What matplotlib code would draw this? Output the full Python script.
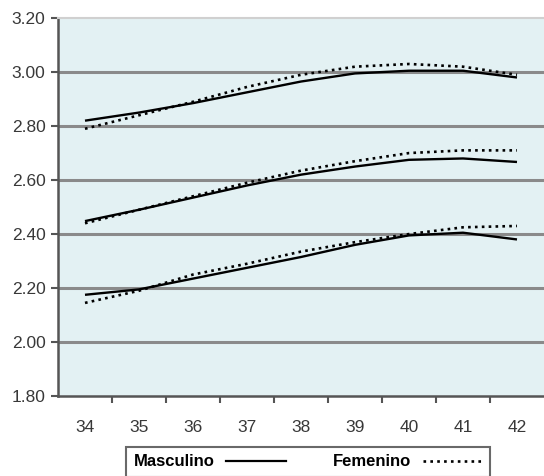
import matplotlib
matplotlib.use("Agg")
import matplotlib.pyplot as plt
from matplotlib.lines import Line2D

# ===============================
# DATA
# ===============================
ages = ["34", "35", "36", "37", "38", "39", "40", "41", "42"]

masc_top = [2.82, 2.85, 2.885, 2.925, 2.965, 2.995, 3.005, 3.005, 2.98]
fem_top = [2.79, 2.84, 2.89, 2.945, 2.99, 3.02, 3.03, 3.02, 2.99]

masc_mid = [2.448, 2.49, 2.535, 2.58, 2.62, 2.65, 2.675, 2.68, 2.667]
fem_mid = [2.44, 2.49, 2.54, 2.59, 2.635, 2.67, 2.70, 2.71, 2.71]

masc_low = [2.175, 2.195, 2.235, 2.275, 2.315, 2.36, 2.395, 2.405, 2.38]
fem_low = [2.145, 2.19, 2.25, 2.29, 2.335, 2.37, 2.40, 2.425, 2.43]

y_ticks = [1.80, 2.00, 2.20, 2.40, 2.60, 2.80, 3.00, 3.20]

plt.rcParams["font.family"] = ["Liberation Sans", "DejaVu Sans"]

# ===============================
# FIGURE
# ===============================
fig = plt.figure(figsize=(5.44, 4.76), dpi=100)
ax = fig.add_axes([0.1066, 0.168, 0.8934, 0.794])
ax.set_facecolor("#E3F1F3")

x = list(range(len(ages)))

dotted = (0, (1.0, 1.6))
for m, f in [(masc_top, fem_top), (masc_mid, fem_mid), (masc_low, fem_low)]:
    ax.plot(x, m, color="black", lw=1.7, solid_capstyle="butt", zorder=3)
    ax.plot(x, f, color="black", lw=1.9, linestyle=dotted, zorder=3)

ax.set_xlim(-0.5, len(ages) - 0.5)
ax.set_ylim(1.80, 3.20)

ax.set_yticks(y_ticks)
ax.set_yticklabels([f"{v:.2f}" for v in y_ticks])
ax.set_xticks(x)
ax.set_xticklabels(ages)
ax.set_xticks([i + 0.5 for i in x[:-1]], minor=True)

ax.tick_params(axis="x", which="major", length=0, pad=17,
               labelsize=12.5, labelcolor="#383838")
ax.tick_params(axis="x", which="minor", length=5, width=1.5, color="#555555")
ax.tick_params(axis="y", length=5, width=1.5, color="#555555",
               labelsize=12.5, labelcolor="#383838", pad=4)

ax.grid(axis="y", color="#8A8A8A", lw=2.2)
ax.set_axisbelow(True)
gl = ax.get_ygridlines()
gl[0].set_visible(False)
gl[-1].set_visible(False)

ax.spines["right"].set_visible(False)
ax.spines["top"].set_color("#D0D0D0")
ax.spines["top"].set_linewidth(1.5)
for side in ["left", "bottom"]:
    ax.spines[side].set_color("#555555")
    ax.spines[side].set_linewidth(1.8)

# ===============================
# LEGEND
# ===============================
handles = [
    Line2D([], [], color="black", lw=1.6),
    Line2D([], [], color="black", lw=1.9, linestyle=dotted),
]
leg = fig.legend(handles, ["Masculino", "Femenino"], ncol=2,
                 loc="upper left", bbox_to_anchor=(0.232, 0.061),
                 borderaxespad=0, markerfirst=False, fancybox=False,
                 handlelength=3.6, handletextpad=0.7, columnspacing=2.8,
                 borderpad=0.45, prop={"weight": "bold", "size": 12})
frame = leg.get_frame()
frame.set_edgecolor("#444444")
frame.set_linewidth(1.5)

fig.savefig("out.png", dpi=100)
